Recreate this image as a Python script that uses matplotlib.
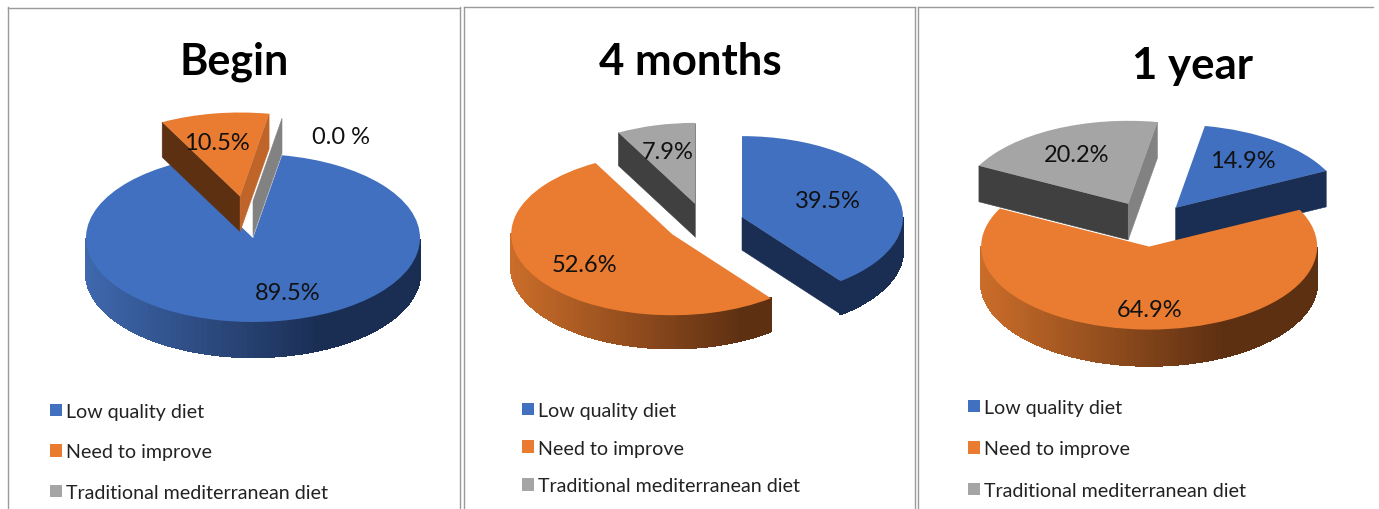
import numpy as np
import matplotlib
matplotlib.use("Agg")
from matplotlib import pyplot as plt

W, H = 1379, 510
plt.rcParams["font.family"] = ["Lato", "DejaVu Sans"]

categories = ["Low quality diet", "Need to improve", "Traditional mediterranean diet"]
titles = ["Begin", "4 months", "1 year"]

begin_values = [89.5, 10.5, 0.0]
months_values = [39.5, 52.6, 7.9]
year_values = [14.9, 64.9, 20.2]

begin_labels = ["89.5%", "10.5%", "0.0 %"]
months_labels = ["39.5%", "52.6%", "7.9%"]
year_labels = ["14.9%", "64.9%", "20.2%"]

# top colour, side colour at the left, side colour in shadow, lit cut face
top_cols = ["#4070BF", "#E97C30", "#A5A5A5"]
light_cols = ["#3F68AE", "#CB6D2A", "#8A8A8A"]
dark_cols = ["#1A2D52", "#5E3012", "#404040"]
mid_cols = ["#2A4A80", "#C0652A", "#828282"]

# pixel layout of each panel
panels = [
    dict(values=begin_values, labels=begin_labels, title=titles[0], cx=253, cy=239, rx=167, ry=84, depth=35,
         start=10, explode=[0, 0.5, 0], move={2: (0.0, 0.44)},
         title_xy=(234, 62), label_xy=[(288, 293), (217, 143), (341, 137)],
         legend_xy=(50, 404), spacing=1.2, size=31),
    dict(values=months_values, labels=months_labels, title=titles[1], cx=705, cy=224.5, rx=161, ry=81, depth=33,
         start=0, explode=[0.243, 0.243, 0.25], move={},
         title_xy=(690, 62), label_xy=[(828, 202), (584, 266), (668, 153)],
         legend_xy=(522, 403), spacing=1.05, size=31.5),
    dict(values=year_values, labels=year_labels, title=titles[2], cx=1149.5, cy=226, rx=168, ry=83, depth=36,
         start=10, explode=[0.26, 0.26, 0.285], move={},
         title_xy=(1192, 66), label_xy=[(1243, 162), (1150, 311), (1077, 156)],
         legend_xy=(968, 400), spacing=1.25, size=31.5),
]


def mix(c1, c2, t):
    a = np.array(matplotlib.colors.to_rgb(c1))
    b = np.array(matplotlib.colors.to_rgb(c2))
    return tuple(a + (b - a) * t)


def draw_sides(ax, wedge, i, d, z):
    cx0, cy0 = wedge.center
    # the pie runs clockwise, so theta2 is where the slice starts
    for ang, is_start in ((wedge.theta2, True), (wedge.theta1, False)):
        a = np.radians(ang)
        # cut face shows only when it is turned to the viewer
        turned = np.cos(a) < 0 if is_start else np.cos(a) > 0
        if not turned:
            continue
        col = mid_cols[i] if (not is_start and np.sin(a) > 0.8) else dark_cols[i]
        xs = [cx0, cx0 + np.cos(a), cx0 + np.cos(a), cx0]
        ys = [cy0, cy0 + np.sin(a), cy0 + np.sin(a) - d, cy0 - d]
        ax.fill(xs, ys, color=col, lw=0.4, zorder=z)
    angs = np.radians(np.linspace(wedge.theta1, wedge.theta2, 140))
    for a0, a1 in zip(angs[:-1], angs[1:]):
        if np.sin((a0 + a1) / 2) >= 0:
            continue
        t = min(1, (np.cos((a0 + a1) / 2) + 1) / 2 / 0.72)
        col = mix(light_cols[i], dark_cols[i], t)
        x0, x1 = cx0 + np.cos(a0), cx0 + np.cos(a1)
        y0, y1 = cy0 + np.sin(a0), cy0 + np.sin(a1)
        ax.fill([x0, x1, x1, x0], [y0, y1, y1 - d, y0 - d], color=col, lw=1.0, antialiased=False, zorder=z + 1)


fig = plt.figure(figsize=(W / 100, H / 100), dpi=100)

bg = fig.add_axes([0, 0, 1, 1])
bg.set_xlim(0, W)
bg.set_ylim(H, 0)
bg.axis("off")
frame = "#9A9A9A"
bg.plot([8, 460], [9, 9], color=frame, lw=1)
bg.plot([464, 915], [8, 8], color=frame, lw=1)
bg.plot([918, 1373], [8, 8], color=frame, lw=1)
for x in [8, 460, 464, 915, 918]:
    bg.plot([x, x], [8, H], color=frame, lw=1)

for p in panels:
    ax = fig.add_axes([0, 0, 1, 1])
    wedges, _ = ax.pie(p["values"], explode=p["explode"], colors=top_cols, startangle=90 - p["start"],
                       counterclock=False, radius=1)
    ax.set_aspect("auto")
    ax.set_xlim(-p["cx"] / p["rx"], (W - p["cx"]) / p["rx"])
    ax.set_ylim((p["cy"] - H) / p["ry"], p["cy"] / p["ry"])
    d = p["depth"] / p["ry"]
    for i, w in enumerate(wedges):
        if i in p["move"]:
            w.set_center(p["move"][i])
        z = 2 + i * 3
        draw_sides(ax, w, i, d, z)
        w.set_zorder(z + 2)
        w.set_linewidth(0)

    for txt, (px, py) in zip(p["labels"], p["label_xy"]):
        ax.text((px - p["cx"]) / p["rx"], (p["cy"] - py) / p["ry"], txt, fontsize=17, color="#111111",
                ha="center", va="center", zorder=50)
    ax.text((p["title_xy"][0] - p["cx"]) / p["rx"], (p["cy"] - p["title_xy"][1]) / p["ry"], p["title"],
            fontsize=p["size"], fontweight="bold", color="black", ha="center", va="center", zorder=50)
    ax.legend(wedges, categories, loc="upper left", frameon=False, fontsize=14.1, borderpad=0, borderaxespad=0,
              handlelength=0.62, handleheight=0.62, handletextpad=0.22, labelspacing=p["spacing"],
              labelcolor="#222222",
              bbox_to_anchor=(p["legend_xy"][0] / W, 1 - p["legend_xy"][1] / H), bbox_transform=fig.transFigure)

fig.savefig("out.png", dpi=100)
